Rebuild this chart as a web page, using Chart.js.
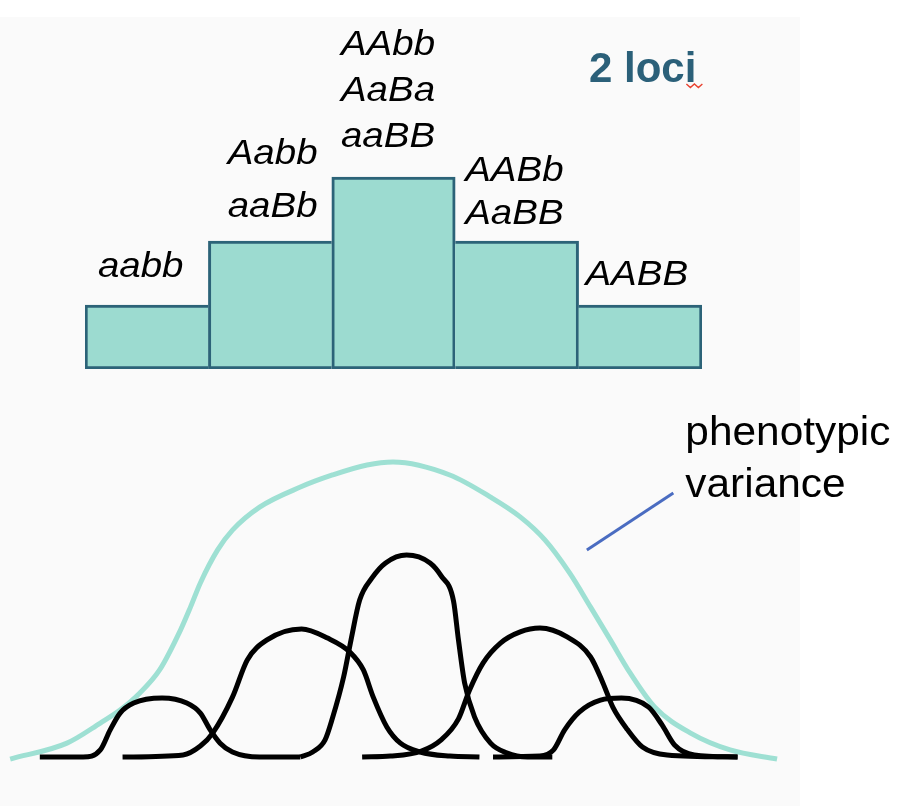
<!DOCTYPE html>
<html>
<head>
<meta charset="utf-8">
<script src="https://cdn.jsdelivr.net/npm/chart.js@4.4.1/dist/chart.umd.min.js"></script>
<style>
  html, body { margin: 0; padding: 0; background: #ffffff; }
  body { width: 899px; height: 806px; position: relative; overflow: hidden; }
  #bg { position: absolute; left: 0; top: 17px; width: 800px; height: 789px; background: #fafafa; }
  #top { position: absolute; left: 0; top: 0; }
  #bottom { position: absolute; left: 0; top: 400px; }
</style>
</head>
<body>
<div id="bg"></div>
<canvas id="top" width="899" height="400"></canvas>
<canvas id="bottom" width="899" height="406"></canvas>
<script>
// ---------- DATA ----------
// Phenotype classes (number of capital alleles 0..4) and their genotype frequencies
const classes = ['0', '1', '2', '3', '4'];
const genotypeCounts = [1, 2, 3, 2, 1];
const genotypeLabels = [
  ['aabb'],
  ['Aabb', 'aaBb'],
  ['AAbb', 'AaBa', 'aaBB'],
  ['AABb', 'AaBB'],
  ['AABB']
];
const titleText = '2 loci';
const noteLines = ['phenotypic', 'variance'];

// Phenotype distribution curves (x: phenotype value, y: relative frequency)
const envelope = [
  {x:-1.10,y:-0.007},{x:-0.64,y:0.047},{x:-0.37,y:0.115},{x:-0.21,y:0.159},{x:-0.05,y:0.217},
  {x:0.11,y:0.295},{x:0.28,y:0.431},{x:0.36,y:0.508},{x:0.44,y:0.590},{x:0.58,y:0.702},
  {x:0.70,y:0.769},{x:0.92,y:0.847},{x:1.25,y:0.915},{x:1.51,y:0.956},{x:1.79,y:0.990},
  {x:2.00,y:1.000},{x:2.46,y:0.956},{x:2.79,y:0.881},{x:3.03,y:0.814},{x:3.23,y:0.736},
  {x:3.43,y:0.624},{x:3.60,y:0.508},{x:3.76,y:0.397},{x:3.92,y:0.285},{x:4.12,y:0.169},
  {x:4.41,y:0.081},{x:4.73,y:0.024},{x:5.11,y:-0.007}
];
const class0 = [
  {x:-0.86,y:0},{x:-0.51,y:0},{x:-0.37,y:0.024},{x:-0.29,y:0.092},{x:-0.21,y:0.149},
  {x:-0.10,y:0.183},{x:0.13,y:0.200},{x:0.33,y:0.183},{x:0.44,y:0.149},{x:0.52,y:0.092},
  {x:0.60,y:0.047},{x:0.70,y:0.017},{x:0.92,y:0},{x:1.25,y:0}
];
const class1 = [
  {x:-0.19,y:0},{x:0.30,y:0.007},{x:0.44,y:0.037},{x:0.54,y:0.081},{x:0.70,y:0.203},
  {x:0.82,y:0.329},{x:0.98,y:0.397},{x:1.26,y:0.434},{x:1.47,y:0.403},{x:1.65,y:0.356},
  {x:1.76,y:0.295},{x:1.84,y:0.203},{x:1.95,y:0.102},{x:2.06,y:0.047},{x:2.22,y:0.017},
  {x:2.46,y:0.003},{x:2.70,y:0}
];
const class2 = [
  {x:1.25,y:0},{x:1.35,y:0.017},{x:1.45,y:0.058},{x:1.51,y:0.132},{x:1.60,y:0.271},
  {x:1.66,y:0.397},{x:1.73,y:0.532},{x:1.83,y:0.607},{x:1.94,y:0.658},{x:2.11,y:0.685},
  {x:2.30,y:0.658},{x:2.39,y:0.614},{x:2.49,y:0.529},{x:2.53,y:0.397},{x:2.58,y:0.251},
  {x:2.66,y:0.136},{x:2.79,y:0.047},{x:2.92,y:0.014},{x:3.09,y:0},{x:3.29,y:0}
];
const class3 = [
  {x:1.75,y:0},{x:1.98,y:0.003},{x:2.23,y:0.020},{x:2.39,y:0.058},{x:2.53,y:0.129},
  {x:2.62,y:0.227},{x:2.73,y:0.319},{x:2.87,y:0.386},{x:3.03,y:0.424},{x:3.19,y:0.437},
  {x:3.41,y:0.407},{x:3.60,y:0.339},{x:3.70,y:0.251},{x:3.78,y:0.169},{x:3.90,y:0.092},
  {x:4.02,y:0.034},{x:4.22,y:0.007},{x:4.79,y:0}
];
const class4 = [
  {x:2.81,y:0},{x:3.19,y:0.003},{x:3.30,y:0.024},{x:3.39,y:0.092},{x:3.51,y:0.153},
  {x:3.68,y:0.193},{x:3.85,y:0.200},{x:4.07,y:0.169},{x:4.18,y:0.108},{x:4.28,y:0.041},
  {x:4.44,y:0.007},{x:4.79,y:0}
];
const pointer = [{x:3.57,y:0.702},{x:4.27,y:0.895}];

// ---------- STYLE ----------
const barFill = '#9cdbd0';
const barEdge = '#2c6378';
const envelopeColor = '#9ee0d3';
const titleColor = '#2b6079';
const labelFont = 'italic 35px "Liberation Sans", Arial, sans-serif';
const labelStretch = 1.1;
const noteStretch = 1.06;
const labelGap = [28, 24, 30, 17, 20];
const labelStep = [46, 53, 46, 43, 46];
const labelNudge = [-6, 2.5, -5.5, -2.5, -3.5];

function stretchedText(ctx, text, x, y, sx) {
  ctx.save();
  ctx.translate(x, y);
  ctx.scale(sx, 1);
  ctx.fillText(text, 0, 0);
  ctx.restore();
}

const topPlugin = {
  id: 'topText',
  afterDatasetsDraw(chart) {
    const ctx = chart.ctx;
    const meta = chart.getDatasetMeta(0);
    ctx.save();
    ctx.fillStyle = '#000';
    ctx.font = labelFont;
    ctx.textAlign = 'center';
    ctx.textBaseline = 'alphabetic';
    meta.data.forEach((bar, i) => {
      const lines = genotypeLabels[i];
      let base = bar.y - labelGap[i];
      for (let j = lines.length - 1; j >= 0; j--) {
        stretchedText(ctx, lines[j], bar.x + labelNudge[i], base, labelStretch);
        base -= labelStep[i];
      }
    });
    // title
    const xs = chart.scales.x;
    const tx = xs.right - 113;
    ctx.textAlign = 'left';
    ctx.font = 'bold 42px "Liberation Sans", Arial, sans-serif';
    ctx.fillStyle = titleColor;
    ctx.fillText(titleText, tx, 82);
    const w = ctx.measureText(titleText).width;
    // spell-check squiggle under last letter
    ctx.strokeStyle = '#e8412f';
    ctx.lineWidth = 1.4;
    ctx.beginPath();
    const sx = tx + w - 10;
    ctx.moveTo(sx, 84);
    ctx.lineTo(sx + 4, 87.5);
    ctx.lineTo(sx + 8, 84);
    ctx.lineTo(sx + 12, 87.5);
    ctx.lineTo(sx + 16, 84);
    ctx.stroke();
    ctx.restore();
  }
};

new Chart(document.getElementById('top'), {
  type: 'bar',
  data: {
    labels: classes,
    datasets: [{
      data: genotypeCounts,
      backgroundColor: barFill,
      borderColor: barEdge,
      borderSkipped: false,
      borderWidth: (c) => {
        const i = c.dataIndex, d = genotypeCounts;
        const v = d[i];
        const prev = i > 0 ? d[i - 1] : -1;
        const next = i < d.length - 1 ? d[i + 1] : -1;
        return { top: 3, bottom: 3, left: v >= prev ? 3 : 0, right: v > next ? 3 : 0 };
      },
      barPercentage: 1,
      categoryPercentage: 1
    }]
  },
  options: {
    responsive: false,
    animation: false,
    layout: { padding: { left: 85, right: 197, top: 49, bottom: 31 } },
    scales: {
      x: { display: false },
      y: { display: false, min: 0, max: 5 }
    },
    plugins: { legend: { display: false }, tooltip: { enabled: false } }
  },
  plugins: [topPlugin]
});

const bottomPlugin = {
  id: 'note',
  afterDatasetsDraw(chart) {
    const ctx = chart.ctx;
    const xs = chart.scales.x, ys = chart.scales.y;
    const end = pointer[pointer.length - 1];
    const px = xs.getPixelForValue(end.x) + 12;
    const py = ys.getPixelForValue(end.y);
    ctx.save();
    ctx.fillStyle = '#000';
    ctx.font = '40px "Liberation Sans", Arial, sans-serif';
    ctx.textAlign = 'left';
    stretchedText(ctx, noteLines[0], px, py - 48, noteStretch);
    stretchedText(ctx, noteLines[1], px, py + 4, noteStretch);
    ctx.restore();
  }
};

const curveStyle = (data, color, width) => ({
  data, borderColor: color, borderWidth: width, pointRadius: 0,
  cubicInterpolationMode: 'monotone', fill: false, clip: false,
  borderCapStyle: 'butt', borderJoinStyle: 'round'
});

new Chart(document.getElementById('bottom'), {
  type: 'line',
  data: {
    datasets: [
      curveStyle(class0, '#000', 5),
      curveStyle(class1, '#000', 5),
      curveStyle(class2, '#000', 5),
      curveStyle(class3, '#000', 5),
      curveStyle(class4, '#000', 5),
      curveStyle(envelope, envelopeColor, 5),
      Object.assign(curveStyle(pointer, '#4a6cc1', 3), { cubicInterpolationMode: 'default', tension: 0 })
    ]
  },
  options: {
    responsive: false,
    animation: false,
    layout: { padding: { left: 4, right: 117, top: 32.5, bottom: 19.5 } },
    scales: {
      x: { type: 'linear', display: false, min: -1.15, max: 5.15 },
      y: { type: 'linear', display: false, min: -0.1, max: 1.1 }
    },
    plugins: { legend: { display: false }, tooltip: { enabled: false } }
  },
  plugins: [bottomPlugin]
});
</script>
</body>
</html>
